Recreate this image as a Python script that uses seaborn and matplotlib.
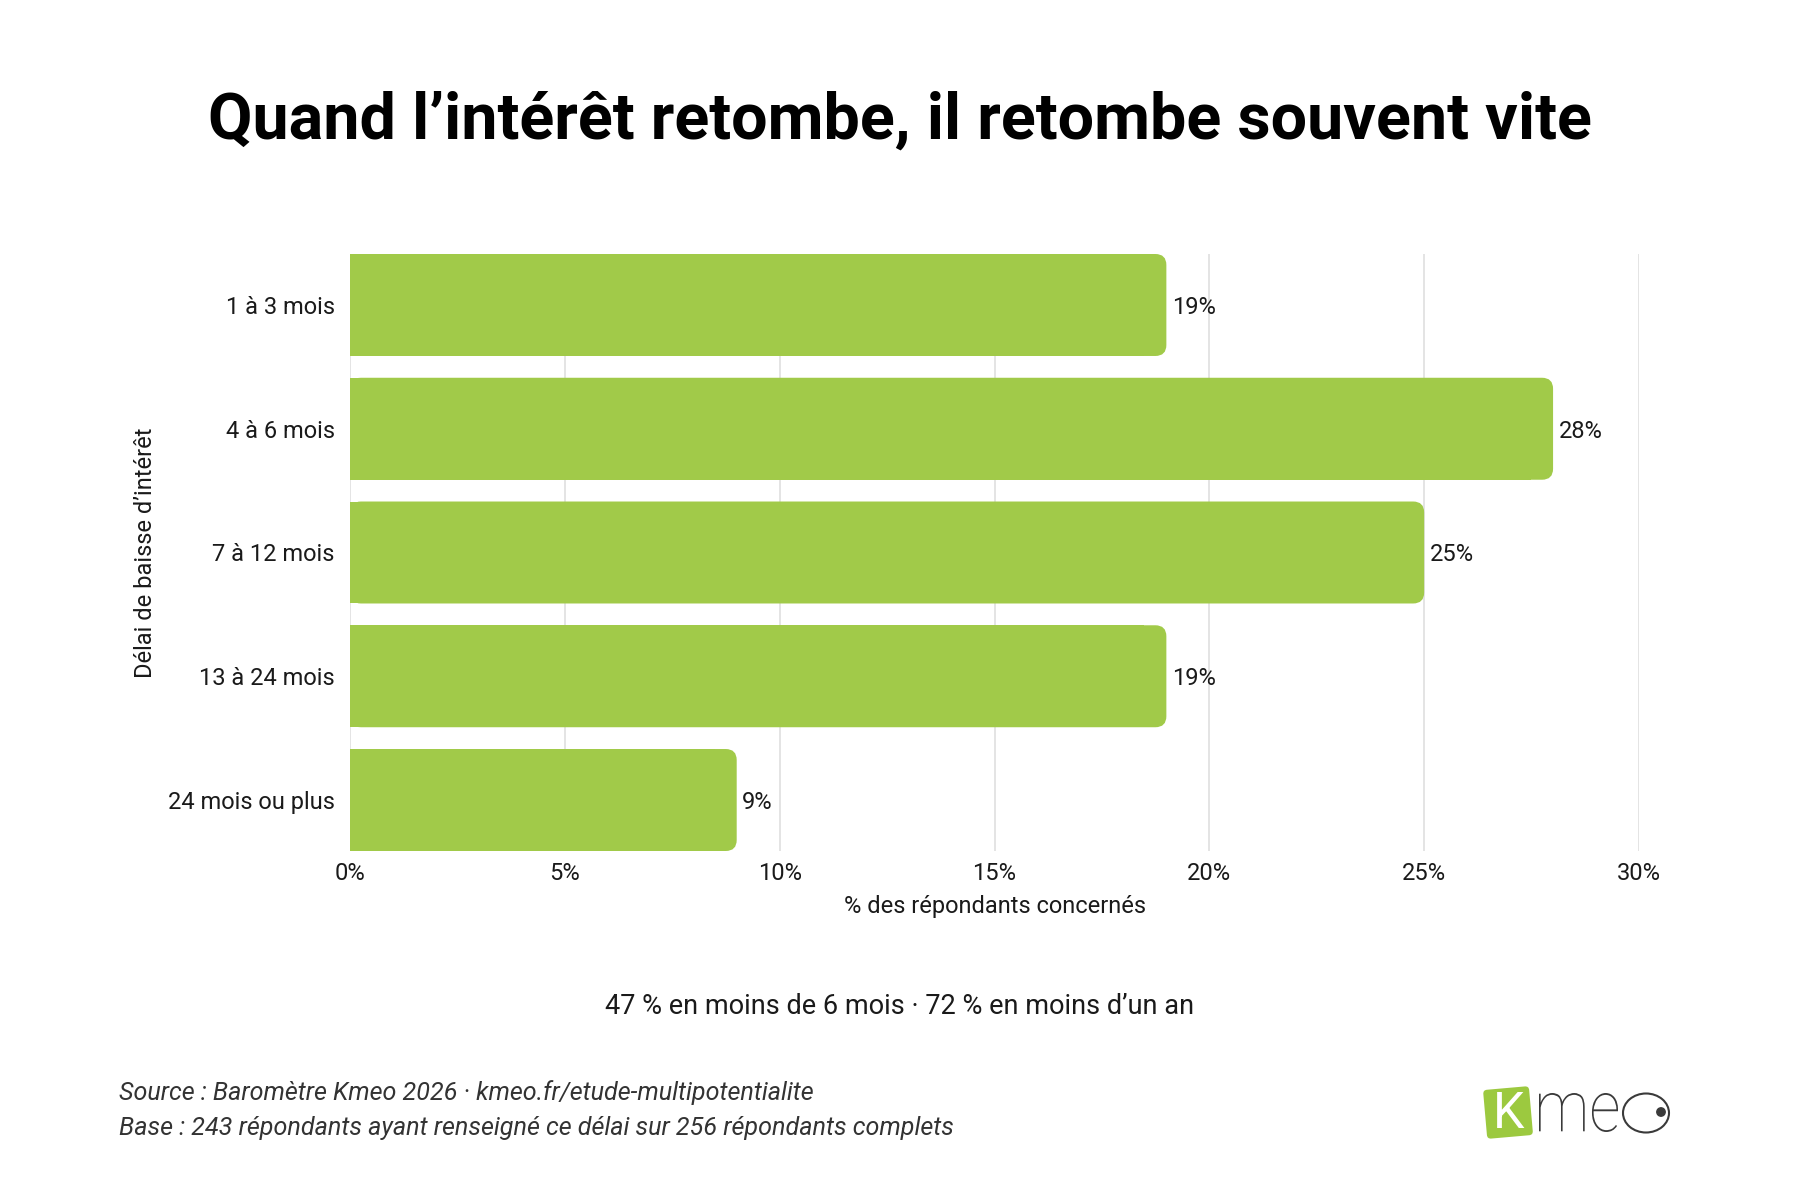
import numpy as np
import pandas as pd
import seaborn as sns
import matplotlib.pyplot as plt
from matplotlib.patches import FancyBboxPatch, Rectangle, Ellipse, Circle, PathPatch
from matplotlib.textpath import TextPath
from matplotlib.font_manager import FontProperties
from matplotlib.transforms import Affine2D

categories = ["1 à 3 mois", "4 à 6 mois", "7 à 12 mois", "13 à 24 mois", "24 mois ou plus"]
values = [19, 28, 25, 19, 9]
xticks = [0, 5, 10, 15, 20, 25, 30]

GREEN = "#A1CA49"
TEXT = "#1a1a1a"

sns.set_theme(style="white")
plt.rcParams['font.family'] = ['Roboto', 'DejaVu Sans']

df = pd.DataFrame({"delai": categories, "pct": values})

fig = plt.figure(figsize=(18, 12), dpi=100)
ax = fig.add_axes([350 / 1800, 1 - 851 / 1200, (1639 - 350) / 1800, (851 - 254) / 1200])

bar_w = 0.824
sns.barplot(data=df, y="delai", x="pct", orient="h", color=GREEN, width=bar_w,
            saturation=1, ax=ax, zorder=2)

ax.set_xlim(0, 30)
ax.set_ylim(4 + bar_w / 2, -bar_w / 2)

# swap rectangles for bars rounded on the right end
px_x = 30 / 1289
px_y = (4 + bar_w) / 597
r = 11 * px_x
for p in list(ax.patches):
    x0, y0, w, h = p.get_x(), p.get_y(), p.get_width(), p.get_height()
    p.set_visible(False)
    ax.add_patch(FancyBboxPatch((x0, y0), w, h, boxstyle=f"round,pad=0,rounding_size={r}",
                                mutation_aspect=px_y / px_x, facecolor=GREEN,
                                edgecolor="none", zorder=2))
    ax.add_patch(Rectangle((x0, y0), w - 2 * r, h, facecolor=GREEN, edgecolor="none", zorder=2))
    ax.text(w + 0.13, y0 + h / 2 + 0.02, f"{w:.0f}%", va="center", ha="left",
            fontsize=17, color=TEXT, zorder=3)

ax.set_xticks(xticks)
ax.set_xticklabels([f"{t}%" for t in xticks])
ax.grid(axis="x", color="#dcdcdc", linewidth=1.1, zorder=0)
ax.set_axisbelow(True)
for s in ax.spines.values():
    s.set_visible(False)
ax.tick_params(axis="both", length=0, labelsize=17, labelcolor=TEXT)
ax.tick_params(axis="x", pad=8)
ax.tick_params(axis="y", pad=11)
ax.set_xlabel("% des répondants concernés", fontsize=17, color=TEXT, labelpad=7)
ax.set_ylabel("Délai de baisse d’intérêt", fontsize=17, color=TEXT, labelpad=8)

fig.text(0.5, 1 - 121 / 1200, "Quand l’intérêt retombe, il retombe souvent vite",
         ha="center", va="center", fontsize=46.5, fontweight="bold", color="black")
fig.text(0.5, 1 - 1006 / 1200, "47 % en moins de 6 mois · 72 % en moins d’un an",
         ha="center", va="center", fontsize=19.5, color=TEXT)
fig.text(119 / 1800, 1 - 1093 / 1200, "Source : Baromètre Kmeo 2026 · kmeo.fr/etude-multipotentialite",
         ha="left", va="center", fontsize=18.1, style="italic", color="#333333")
fig.text(119 / 1800, 1 - 1128 / 1200, "Base : 243 répondants ayant renseigné ce délai sur 256 répondants complets",
         ha="left", va="center", fontsize=18.1, style="italic", color="#333333")

# logo kmeo, in pixel coordinates of the figure
lax = fig.add_axes([1475 / 1800, 1 - 1148 / 1200, 210 / 1800, 70 / 1200])
lax.set_xlim(1475, 1685)
lax.set_ylim(1148, 1078)
lax.axis("off")
sq = FancyBboxPatch((1485, 1088), 46, 49, boxstyle="round,pad=0,rounding_size=4",
                    facecolor="#9CC93F", edgecolor="none")
sq.set_transform(Affine2D().rotate_deg_around(1508, 1112, -5) + lax.transData)
lax.add_patch(sq)
lax.text(1509, 1114, "K", ha="center", va="center", fontsize=36, color="white")

# "me" stretched to the box it takes in the logo
tp = TextPath((0, 0), "me", size=10, prop=FontProperties(family="Roboto", weight="light"))
ext = tp.get_extents()
sx = (1618 - 1539) / ext.width
sy = (1132 - 1093) / ext.height
tr = Affine2D().translate(-ext.x0, -ext.y0).scale(sx, -sy).translate(1539, 1132)
lax.add_patch(PathPatch(tr.transform_path(tp), facecolor="#3a3a3a", edgecolor="none"))
lax.add_patch(Ellipse((1646, 1113), 46, 39, facecolor="none", edgecolor="#3a3a3a", linewidth=1.5))
lax.add_patch(Circle((1661, 1112), 4.2, color="#3a3a3a"))

fig.savefig("out.png", dpi=100, facecolor="white")
